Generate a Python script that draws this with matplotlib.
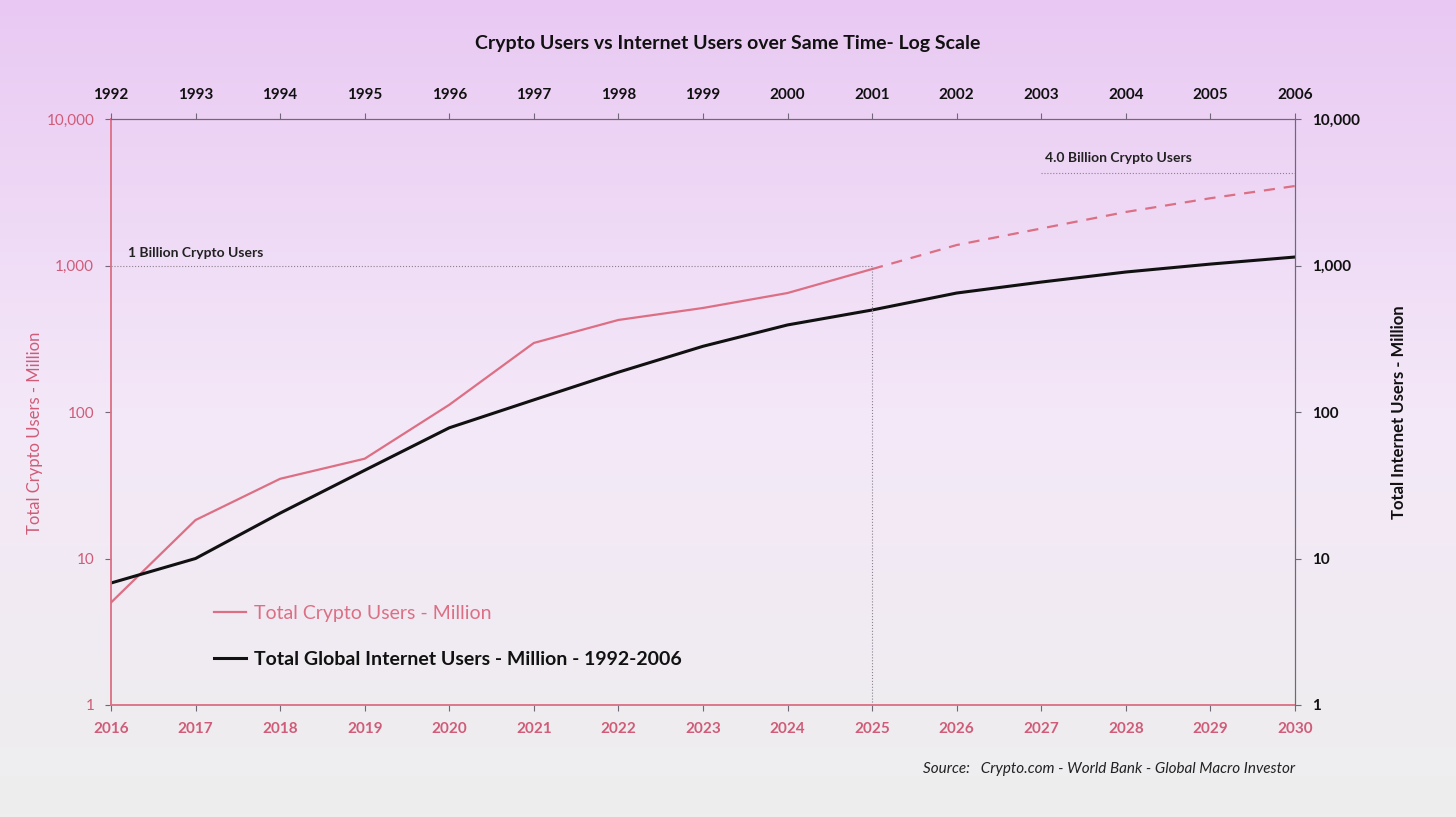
import matplotlib.pyplot as plt
import numpy as np

plt.rcParams['font.family'] = ['Lato', 'DejaVu Sans']

years = [2016, 2017, 2018, 2019, 2020, 2021, 2022, 2023, 2024, 2025, 2026, 2027, 2028, 2029, 2030]
top_years = [str(y) for y in range(1992, 2007)]
crypto = [5.0, 18.3, 35, 48, 112, 296, 425, 513, 649, 946]
crypto_proj = [946, 1380, 1790, 2320, 2880, 3490]
internet = [6.8, 10, 20.4, 40, 78, 121, 187, 281, 393, 497, 649, 771, 903, 1023, 1143]
y_ticks = [1, 10, 100, 1000, 10000]
y_labels = ['1', '10', '100', '1,000', '10,000']

PINK = '#dc6f84'
PINK_TXT = '#cf5c78'
GREY = '#6e6878'

fig = plt.figure(figsize=(14.56, 8.17), dpi=100)

# gradient background
bg = fig.add_axes([0, 0, 1, 1], zorder=-10)
grad = np.linspace(0, 1, 256).reshape(-1, 1)
top = np.array([233, 201, 243]) / 255
mid = np.array([244, 232, 248]) / 255
bot = np.array([238, 238, 238]) / 255
cols = np.where(grad[..., None] < 0.5,
                top + (mid - top) * (grad[..., None] / 0.5),
                mid + (bot - mid) * ((grad[..., None] - 0.5) / 0.5))
bg.imshow(cols, aspect='auto', extent=[0, 1, 0, 1])
bg.axis('off')

ax = fig.add_axes([0.0762, 0.1371, 0.8132, 0.7172])
ax.set_facecolor('none')
ax.set_yscale('log')
ax.set_xlim(2016, 2030)
ax.set_ylim(1, 10000)

ax.plot(years[:10], crypto, color=PINK, lw=1.6, label='Total Crypto Users - Million')
ax.plot(years[9:], crypto_proj, color=PINK, lw=1.6, ls=(0, (5, 4)))
ax.plot(years, internet, color='#111111', lw=2.2,
        label='Total Global Internet Users - Million - 1992-2006')

# reference lines
ax.plot([2016, 2025], [1000, 1000], color='#8a8090', lw=0.8, ls=':')
ax.plot([2025, 2025], [1, 1000], color='#8a8090', lw=0.8, ls=':')
ax.plot([2027, 2030], [4300, 4300], color='#8a8090', lw=0.8, ls=':')
ax.text(2016.2, 1150, '1 Billion Crypto Users', fontsize=10, fontweight='bold', color='#222222')
ax.text(2027.05, 5100, '4.0 Billion Crypto Users', fontsize=10, fontweight='bold', color='#222222')

ax.set_xticks(years)
ax.set_xticklabels([str(y) for y in years], color=PINK_TXT, fontsize=11, fontweight='bold')
ax.set_yticks(y_ticks)
ax.set_yticklabels(y_labels, color=PINK_TXT, fontsize=11)
ax.minorticks_off()
ax.tick_params(axis='both', length=4, color=GREY, pad=8)
ax.set_ylabel('Total Crypto Users - Million', color=PINK_TXT, fontsize=12)
ax.yaxis.set_label_coords(-0.057, 0.464)

for s in ['left', 'bottom']:
    ax.spines[s].set_color(PINK)
    ax.spines[s].set_linewidth(1.3)
ax.spines['top'].set_color(GREY)
ax.spines['right'].set_color(GREY)

axr = ax.twinx()
axr.set_yscale('log')
axr.set_ylim(1, 10000)
axr.set_yticks(y_ticks)
axr.set_yticklabels(y_labels, color='#111111', fontsize=11, fontweight='bold')
axr.minorticks_off()
axr.tick_params(axis='y', length=4, color=GREY, pad=8)
axr.set_ylabel('Total Internet Users - Million', color='#111111', fontsize=12,
               fontweight='bold')
axr.yaxis.set_label_coords(1.081, 0.5)
axr.spines['right'].set_color(GREY)
axr.spines['left'].set_visible(False)
axr.spines['top'].set_visible(False)
axr.spines['bottom'].set_visible(False)

axt = ax.twiny()
axt.set_xlim(2016, 2030)
axt.set_xticks(years)
axt.set_xticklabels(top_years, color='#111111', fontsize=11, fontweight='bold')
axt.tick_params(axis='x', length=4, color=GREY, pad=8)
for s in ['left', 'right', 'bottom']:
    axt.spines[s].set_visible(False)
axt.spines['top'].set_color(GREY)

leg = ax.legend(loc='lower left', bbox_to_anchor=(0.072, 0.033), frameon=False,
                fontsize=14, labelcolor='linecolor', handlelength=1.65,
                labelspacing=1.5, handletextpad=0.4)
for t in leg.get_texts():
    if 'Global' in t.get_text():
        t.set_fontweight('bold')

fig.text(0.5, 0.947, 'Crypto Users vs Internet Users over Same Time- Log Scale',
         ha='center', va='center', fontsize=14, fontweight='bold', color='#111111')
fig.text(0.634, 0.059, 'Source:   Crypto.com - World Bank - Global Macro Investor',
         ha='left', va='center', fontsize=11, style='italic', color='#222222')

fig.savefig('out.png', dpi=100)
